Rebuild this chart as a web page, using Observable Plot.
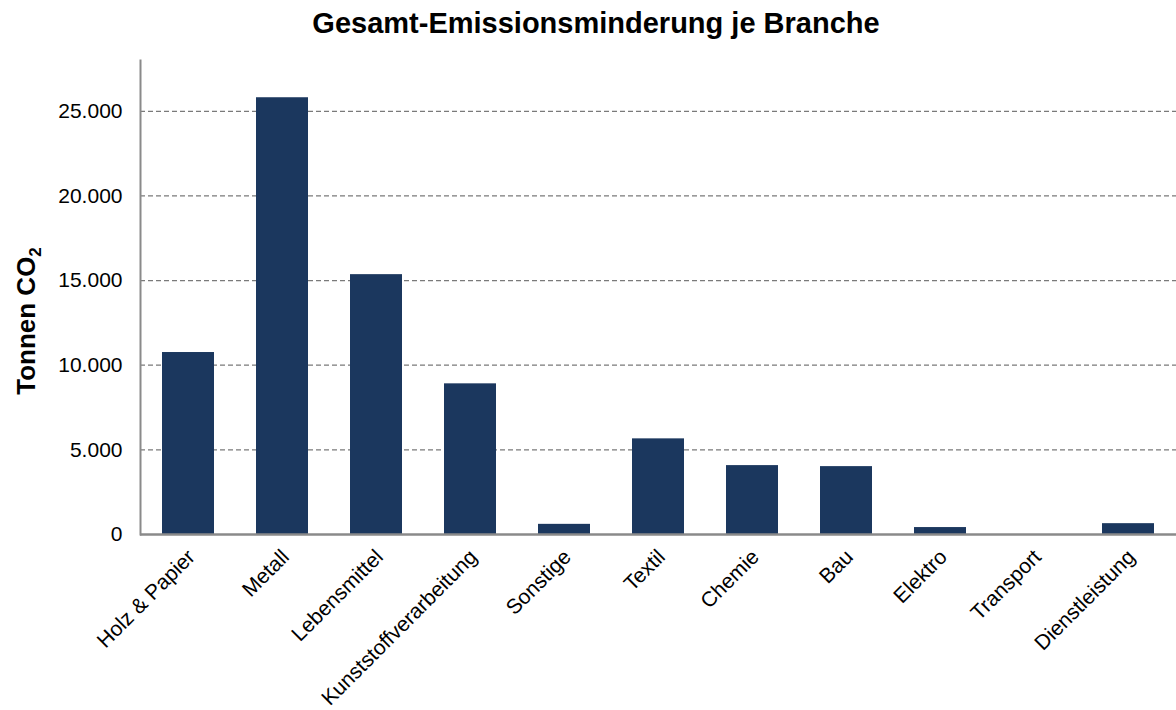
<!DOCTYPE html>
<html><head><meta charset="utf-8">
<script src="https://cdn.jsdelivr.net/npm/d3@7"></script>
<script src="https://cdn.jsdelivr.net/npm/@observablehq/plot@0.6"></script>
<style>
body{margin:0;background:#fff;font-family:"Liberation Sans",Arial,sans-serif;}
#title{height:50px;line-height:46px;font-weight:bold;font-size:29px;text-align:center;padding-left:16px;color:#000;}
</style></head><body>
<div id="title">Gesamt-Emissionsminderung je Branche</div>
<div id="chart"></div>
<script>
const branches = ["Holz & Papier","Metall","Lebensmittel","Kunststoffverarbeitung","Sonstige","Textil","Chemie","Bau","Elektro","Transport","Dienstleistung"];
const values = [10750, 25800, 15350, 8900, 600, 5650, 4070, 4010, 410, 0, 640];
const yTicks = [0, 5000, 10000, 15000, 20000, 25000];
const gridTicks = [5000, 10000, 15000, 20000, 25000];
const yLabel = "Tonnen CO";
const yLabelSub = "2";

const data = branches.map((b, i) => ({branche: b, wert: values[i]}));
const de = d3.formatLocale({decimal: ",", thousands: ".", grouping: [3], currency: ["", " €"]});
const fmt = de.format(",d");

const plot = Plot.plot({
  width: 1176,
  height: 660,
  marginTop: 10,
  marginLeft: 140,
  marginRight: 0,
  marginBottom: 176,
  style: {fontFamily: '"Liberation Sans", Arial, sans-serif', fontSize: "21px", color: "#000", background: "#fff"},
  x: {domain: branches, paddingInner: 0.45, paddingOuter: 0.225, label: null},
  y: {domain: [0, 28000], label: null},
  marks: [
    Plot.gridY(gridTicks, {stroke: "#7a7a7a", strokeOpacity: 1, strokeDasharray: "5,3", strokeWidth: 1.3}),
    Plot.barY(data, {x: "branche", y: "wert", fill: "#1b375e"}),
    Plot.axisY(yTicks, {tickSize: 0, tickPadding: 18, tickFormat: fmt, fontSize: 21, label: null}),
    Plot.axisX({tickSize: 0, tickPadding: 19, tickRotate: -45, fontSize: 21, label: null, dx: 3}),
    Plot.frame({anchor: "left", stroke: "#8a8a8a", strokeWidth: 2}),
    Plot.ruleY([0], {stroke: "#8a8a8a", strokeWidth: 2.5})
  ]
});
document.getElementById("chart").appendChild(plot);
// bold y label with subscript 2
const NS = "http://www.w3.org/2000/svg";
const t = document.createElementNS(NS, "text");
t.setAttribute("transform", "translate(26,271) rotate(-90)");
t.setAttribute("text-anchor", "middle");
t.setAttribute("dominant-baseline", "central");
t.setAttribute("font-weight", "bold");
t.setAttribute("font-size", "26px");
t.setAttribute("fill", "#000");
t.appendChild(document.createTextNode(yLabel));
const ts = document.createElementNS(NS, "tspan");
ts.setAttribute("baseline-shift", "sub");
ts.setAttribute("font-size", "17px");
ts.textContent = yLabelSub;
t.appendChild(ts);
plot.appendChild(t);
</script>
</body></html>
